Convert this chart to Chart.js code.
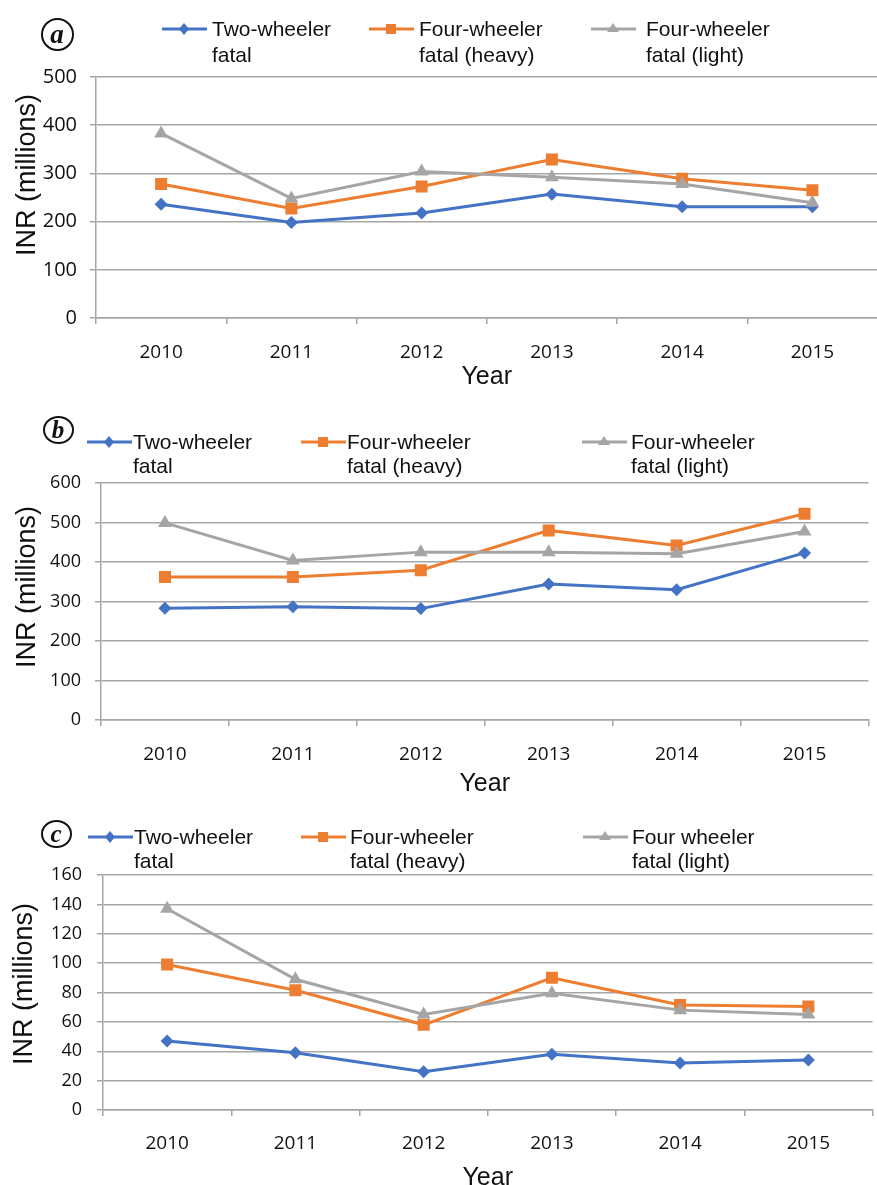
<!DOCTYPE html>
<html>
<head>
<meta charset="utf-8">
<script src="https://cdn.jsdelivr.net/npm/chart.js@4.4.1/dist/chart.umd.min.js"></script>
<style>
  html, body { margin: 0; padding: 0; background: #fff; }
  body { width: 877px; height: 1185px; overflow: hidden; position: relative;
         font-family: "Liberation Sans", Arial, sans-serif; }
  canvas { position: absolute; left: 0; }
  .tag { position: absolute; border: 2.5px solid #111; border-radius: 50%; box-sizing: border-box;
         font-family: "Liberation Serif", "Times New Roman", serif; font-style: italic; font-weight: bold;
         color: #111; display: flex; align-items: center; justify-content: center; }
  .leg { position: absolute; font-size: 21px; color: #111; white-space: nowrap; }
  .sym { position: absolute; }
</style>
</head>
<body>
<canvas id="chartA" width="886" height="400" style="top:0px"></canvas>
<canvas id="chartB" width="877" height="395" style="top:405px"></canvas>
<canvas id="chartC" width="881" height="400" style="top:800px"></canvas>

<script>
// Years on the horizontal axis
const years = ['2010', '2011', '2012', '2013', '2014', '2015'];

// (a) cost of fatal crashes, INR millions
const twoWheelerA = [236, 198, 218, 257, 231, 231];
const heavyA      = [278, 227, 273, 329, 289, 265];
const lightA      = [383, 248, 304, 292, 278, 239];

// (b)
const twoWheelerB = [283, 287, 282, 344, 330, 423];
const heavyB      = [362, 362, 379, 480, 442, 522];
const lightB      = [499, 404, 425, 425, 421, 477];

// (c)
const twoWheelerC = [47, 39, 26, 38, 32, 34];
const heavyC      = [99, 81.5, 58, 90, 71.5, 70.5];
const lightC      = [137, 89, 65, 79.5, 68, 65];

// Legend wording (two lines each)
const labelsAB = [['Two-wheeler', 'fatal'], ['Four-wheeler', 'fatal (heavy)'], ['Four-wheeler', 'fatal (light)']];
const labelsC  = [['Two-wheeler', 'fatal'], ['Four-wheeler', 'fatal (heavy)'], ['Four wheeler', 'fatal (light)']];

// Y axis ranges
const yMaxA = 500, yStepA = 100;
const yMaxB = 600, yStepB = 100;
const yMaxC = 160, yStepC = 20;

const yTitle = 'INR (millions)';
const xTitle = 'Year';

const COLORS = ['#4472c4', '#ed7d31', '#a5a5a5'];
const STYLES = [
  { pointStyle: 'rectRot', radius: 6.5 },
  { pointStyle: 'rect', radius: 8.5 },
  { pointStyle: 'triangle', radius: 8 }
];
const GRID = '#a6a6a6';
const TICK = '#111';

// Rotated y-axis caption drawn at a fixed spot beside the axis
const yTitlePlugin = {
  id: 'yTitle',
  afterDraw(chart, args, o) {
    const ctx = chart.ctx;
    ctx.save();
    ctx.translate(o.x, o.y);
    ctx.rotate(-Math.PI / 2);
    ctx.font = o.font;
    ctx.fillStyle = o.color;
    ctx.textAlign = 'center';
    ctx.textBaseline = 'middle';
    ctx.fillText(o.text, 0, 0);
    ctx.restore();
  }
};

function makeChart(id, series, yMax, yStep, p) {
  const datasets = series.map((vals, i) => ({
    data: vals,
    borderColor: COLORS[i],
    backgroundColor: COLORS[i],
    borderWidth: 3,
    pointStyle: STYLES[i].pointStyle,
    pointRadius: STYLES[i].radius,
    pointBorderWidth: 0,
    pointBackgroundColor: COLORS[i],
    tension: 0,
    order: 3 - i
  }));
  return new Chart(document.getElementById(id), {
    type: 'line',
    data: { labels: years, datasets },
    plugins: [yTitlePlugin],
    options: {
      responsive: false,
      animation: false,
      events: [],
      layout: { padding: { top: p.top, left: 0, right: 0, bottom: 0 } },
      plugins: {
        legend: { display: false },
        tooltip: { enabled: false },
        yTitle: { text: yTitle, x: p.titleX, y: p.titleY, font: '27px "Liberation Sans", Arial, sans-serif', color: '#111' }
      },
      scales: {
        x: {
          offset: true,
          afterFit: s => { s.height = p.xHeight; },
          grid: { offset: true, drawOnChartArea: false, drawTicks: true, tickLength: 6, color: GRID, lineWidth: 1.5 },
          border: { display: true, color: GRID, width: 1.5 },
          ticks: { color: TICK, padding: p.xPad, font: { family: '"Open Sans", sans-serif', size: 19 } },
          title: { display: true, text: xTitle, color: '#111',
                   font: { family: '"Liberation Sans", Arial, sans-serif', size: 25, lineHeight: 1.2 },
                   padding: { top: 0, bottom: p.yearPad } }
        },
        y: {
          min: 0, max: yMax,
          afterFit: s => { s.width = p.left; },
          grid: { color: GRID, lineWidth: 1.5, tickLength: 6 },
          border: { display: true, color: GRID, width: 1.5 },
          ticks: { stepSize: yStep, color: TICK, padding: p.yPad,
                   font: { family: '"Open Sans", sans-serif', size: p.yFont } }
        }
      }
    }
  });
}

makeChart('chartA', [twoWheelerA, heavyA, lightA], yMaxA, yStepA,
  { top: 77, xHeight: 82, left: 96, xPad: 17, yPad: 13, yFont: 20, yearPad: 8, titleX: 28, titleY: 175 });
makeChart('chartB', [twoWheelerB, heavyB, lightB], yMaxB, yStepB,
  { top: 78, xHeight: 80, left: 101, xPad: 17, yPad: 14, yFont: 18, yearPad: 1, titleX: 28, titleY: 182 });
makeChart('chartC', [twoWheelerC, heavyC, lightC], yMaxC, yStepC,
  { top: 75, xHeight: 90, left: 103, xPad: 16, yPad: 15, yFont: 18, yearPad: 7, titleX: 25, titleY: 184 });

// Legend symbols: short line with the series marker in the middle
function symbolSvg(i) {
  const c = COLORS[i];
  let m;
  if (i === 0) m = `<polygon points="22,2 27,8 22,14 17,8" fill="${c}"/>`;
  else if (i === 1) m = `<rect x="17" y="3" width="10" height="10" fill="${c}"/>`;
  else m = `<polygon points="22,2 28,11 16,11" fill="${c}"/>`;
  return `<svg width="45" height="16" viewBox="0 0 45 16"><line x1="0" y1="8" x2="45" y2="8" stroke="${c}" stroke-width="3"/>${m}</svg>`;
}

function addLegend(labels, symX, textX, y1, lineH) {
  labels.forEach((lines, i) => {
    const s = document.createElement('div');
    s.className = 'sym';
    s.style.left = symX[i] + 'px';
    s.style.top = (y1 - 8) + 'px';
    s.innerHTML = symbolSvg(i);
    document.body.appendChild(s);
    const t = document.createElement('div');
    t.className = 'leg';
    t.style.left = textX[i] + 'px';
    t.style.top = (y1 - lineH / 2) + 'px';
    t.style.lineHeight = lineH + 'px';
    t.innerHTML = lines.join('<br>');
    document.body.appendChild(t);
  });
}

function addTag(letter, cx, cy, w, h, size) {
  const d = document.createElement('div');
  d.className = 'tag';
  d.style.left = (cx - w / 2) + 'px';
  d.style.top = (cy - h / 2) + 'px';
  d.style.width = w + 'px';
  d.style.height = h + 'px';
  d.style.fontSize = size + 'px';
  d.textContent = letter;
  document.body.appendChild(d);
}

addTag('a', 57, 34, 33, 33, 27);
addTag('b', 58, 430, 31, 28, 25);
addTag('c', 56, 834, 31, 28, 25);

addLegend(labelsAB, [162, 369, 591], [212, 419, 646], 29, 26);
addLegend(labelsAB, [87, 301, 582], [133, 347, 631], 442, 24);
addLegend(labelsC,  [88, 301, 583], [134, 350, 632], 837, 24);
</script>
</body>
</html>
